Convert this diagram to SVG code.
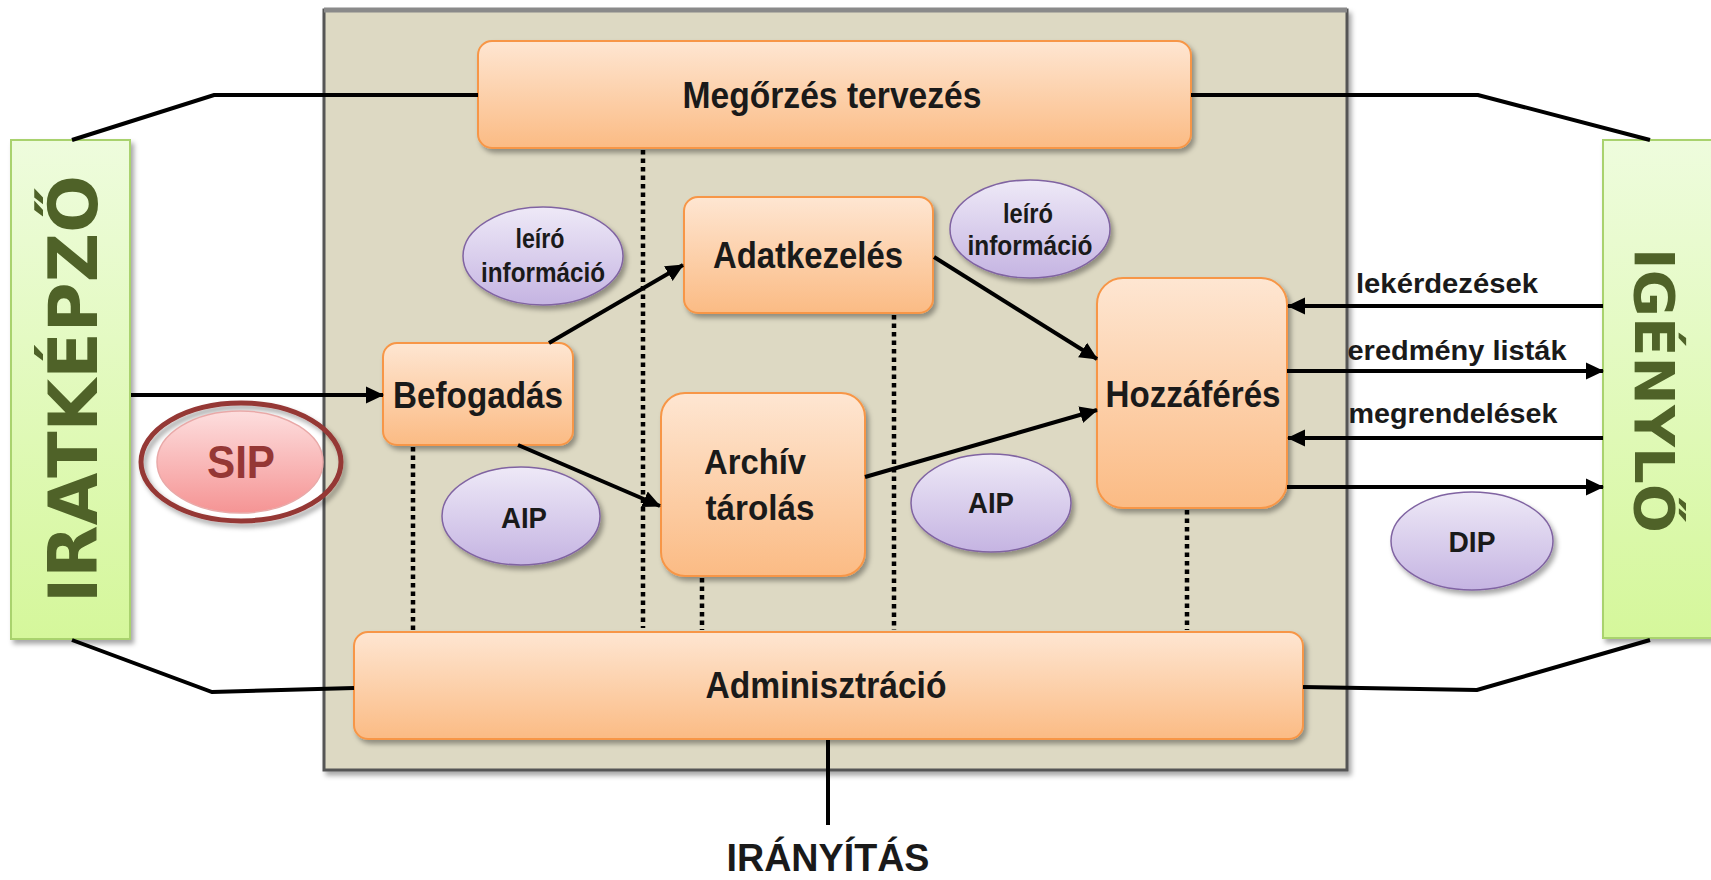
<svg xmlns="http://www.w3.org/2000/svg" width="1711" height="880" viewBox="0 0 1711 880">
<defs>
<style>
.lbl{font-family:"Liberation Sans",Arial,sans-serif;font-weight:bold;fill:#1a1a1a;text-anchor:middle}
.box{fill:url(#gOrange);stroke:#f79646;stroke-width:2}
.ell{fill:url(#gPurple);stroke:#8064a2;stroke-width:1.5}
.side{fill:url(#gGreen);stroke:#a9d26e;stroke-width:2}
.sideTxt{font-family:"DejaVu Sans",Verdana,sans-serif;font-weight:bold;fill:#4f6228;text-anchor:middle}
.ln{fill:none;stroke:#000;stroke-width:4}
.dot{fill:none;stroke:#000;stroke-width:4.5;stroke-dasharray:4.5 4}
</style>
<linearGradient id="gOrange" x1="0" y1="0" x2="0" y2="1"><stop offset="0" stop-color="#fee6d2"/><stop offset="1" stop-color="#fbbb84"/></linearGradient>
<linearGradient id="gPurple" x1="0" y1="0" x2="0" y2="1"><stop offset="0" stop-color="#eee9f7"/><stop offset="1" stop-color="#c5b4e2"/></linearGradient>
<linearGradient id="gGreen" x1="0" y1="0" x2="0" y2="1"><stop offset="0" stop-color="#eefcdd"/><stop offset="1" stop-color="#d5f79b"/></linearGradient>
<linearGradient id="gPink" x1="0" y1="0" x2="0" y2="1"><stop offset="0" stop-color="#fddede"/><stop offset="1" stop-color="#f59494"/></linearGradient>
<filter id="sh" x="-10%" y="-10%" width="130%" height="140%"><feDropShadow dx="3" dy="4" stdDeviation="2.5" flood-color="#000" flood-opacity="0.35"/></filter>
<marker id="ah" markerUnits="userSpaceOnUse" markerWidth="18" markerHeight="18" refX="17" refY="9" orient="auto"><path d="M0,0.5 L18,9 L0,17.5 z" fill="#000"/></marker>
</defs>
<rect width="1711" height="880" fill="#fff"/>

<g id="frame">
<rect x="324" y="10" width="1023" height="760" fill="#ddd9c3" stroke="#555" stroke-width="3" filter="url(#sh)"/>
<line x1="324" y1="10" x2="1347" y2="10" stroke="#8a8a8a" stroke-width="5"/>
</g>

<g id="iratkepzo">
<rect class="side" x="11" y="140" width="119" height="499" filter="url(#sh)"/>
<text class="sideTxt" font-size="67" textLength="428" lengthAdjust="spacingAndGlyphs" transform="translate(97,389) rotate(-90)" x="0" y="0">IRATKÉPZŐ</text>
</g>

<g id="igenylo">
<rect class="side" x="1603" y="140" width="120" height="498" filter="url(#sh)"/>
<text class="sideTxt" font-size="56" textLength="285" lengthAdjust="spacingAndGlyphs" transform="translate(1635,390.5) rotate(90)" x="0" y="0">IGÉNYLŐ</text>
</g>

<g id="sip">
<ellipse cx="241" cy="462" rx="100" ry="59" fill="none" stroke="#953735" stroke-width="5" filter="url(#sh)"/>
<ellipse cx="240" cy="462" rx="83" ry="51" fill="url(#gPink)" stroke="#e9a9a8" stroke-width="1.5"/>
<text class="lbl" x="241" y="478" font-size="46" textLength="68" lengthAdjust="spacingAndGlyphs" style="fill:#953735">SIP</text>
</g>

<g id="megorzes">
<rect class="box" x="478" y="41" width="713" height="107" rx="14" filter="url(#sh)"/>
<text class="lbl" x="832" y="108" font-size="36" textLength="299" lengthAdjust="spacingAndGlyphs">Megőrzés tervezés</text>
</g>

<g id="befogadas">
<rect class="box" x="383" y="343" width="190" height="102" rx="14" filter="url(#sh)"/>
<text class="lbl" x="478" y="408" font-size="37" textLength="170" lengthAdjust="spacingAndGlyphs">Befogadás</text>
</g>

<g id="adatkezeles">
<rect class="box" x="684" y="197" width="249" height="116" rx="14" filter="url(#sh)"/>
<text class="lbl" x="808" y="268" font-size="36" textLength="190" lengthAdjust="spacingAndGlyphs">Adatkezelés</text>
</g>

<g id="archiv">
<rect class="box" x="661" y="393" width="204" height="183" rx="24" filter="url(#sh)"/>
<text class="lbl" x="755" y="474" font-size="35" textLength="102" lengthAdjust="spacingAndGlyphs">Archív</text>
<text class="lbl" x="760" y="520" font-size="35" textLength="109" lengthAdjust="spacingAndGlyphs">tárolás</text>
</g>

<g id="hozzaferes">
<rect class="box" x="1097" y="278" width="190" height="230" rx="26" filter="url(#sh)"/>
<text class="lbl" x="1193" y="407" font-size="36" textLength="175" lengthAdjust="spacingAndGlyphs">Hozzáférés</text>
</g>

<g id="adminisztracio">
<rect class="box" x="354" y="632" width="949" height="107" rx="14" filter="url(#sh)"/>
<text class="lbl" x="826" y="698" font-size="36" textLength="241" lengthAdjust="spacingAndGlyphs">Adminisztráció</text>
</g>

<g id="leiro1">
<ellipse class="ell" cx="543" cy="256" rx="80" ry="49" filter="url(#sh)"/>
<text class="lbl" x="540" y="248" font-size="27" textLength="49" lengthAdjust="spacingAndGlyphs">leíró</text>
<text class="lbl" x="543" y="282" font-size="27" textLength="124" lengthAdjust="spacingAndGlyphs">információ</text>
</g>

<g id="leiro2">
<ellipse class="ell" cx="1030" cy="229" rx="80" ry="49" filter="url(#sh)"/>
<text class="lbl" x="1028" y="223" font-size="27" textLength="50" lengthAdjust="spacingAndGlyphs">leíró</text>
<text class="lbl" x="1030" y="255" font-size="27" textLength="125" lengthAdjust="spacingAndGlyphs">információ</text>
</g>

<g id="aip1">
<ellipse class="ell" cx="521" cy="516" rx="79" ry="49" filter="url(#sh)"/>
<text class="lbl" x="524" y="528" font-size="29" textLength="46" lengthAdjust="spacingAndGlyphs">AIP</text>
</g>

<g id="aip2">
<ellipse class="ell" cx="991" cy="503" rx="80" ry="49" filter="url(#sh)"/>
<text class="lbl" x="991" y="513" font-size="29" textLength="46" lengthAdjust="spacingAndGlyphs">AIP</text>
</g>

<g id="dip">
<ellipse class="ell" cx="1472" cy="541" rx="81" ry="49" filter="url(#sh)"/>
<text class="lbl" x="1472" y="552" font-size="29" textLength="47" lengthAdjust="spacingAndGlyphs">DIP</text>
</g>

<g id="connectors">
<polyline class="ln" points="478,95 214,95 72,140"/>
<polyline class="ln" points="1191,95 1478,95 1650,140"/>
<polyline class="ln" points="354,688 212,692 72,640"/>
<polyline class="ln" points="1303,687 1477,690 1650,640"/>
<line class="ln" x1="131" y1="395" x2="383" y2="395" marker-end="url(#ah)"/>
<line class="ln" x1="549" y1="343" x2="683" y2="265" marker-end="url(#ah)"/>
<line class="ln" x1="518" y1="445" x2="660" y2="506" marker-end="url(#ah)"/>
<line class="ln" x1="934" y1="257" x2="1097" y2="359" marker-end="url(#ah)"/>
<line class="ln" x1="865" y1="477" x2="1097" y2="410" marker-end="url(#ah)"/>
<line class="ln" x1="1603" y1="306" x2="1288" y2="306" marker-end="url(#ah)"/>
<line class="ln" x1="1287" y1="371" x2="1603" y2="371" marker-end="url(#ah)"/>
<line class="ln" x1="1603" y1="438" x2="1288" y2="438" marker-end="url(#ah)"/>
<line class="ln" x1="1287" y1="487" x2="1603" y2="487" marker-end="url(#ah)"/>
<line class="ln" x1="828" y1="740" x2="828" y2="825"/>
<line class="dot" x1="643" y1="150" x2="643" y2="628"/>
<line class="dot" x1="413" y1="447" x2="413" y2="630"/>
<line class="dot" x1="702" y1="578" x2="702" y2="630"/>
<line class="dot" x1="894" y1="315" x2="894" y2="630"/>
<line class="dot" x1="1187" y1="510" x2="1187" y2="630"/>
<text class="lbl" x="1447" y="293" font-size="28" textLength="182" lengthAdjust="spacingAndGlyphs">lekérdezések</text>
<text class="lbl" x="1457" y="360" font-size="28" textLength="219" lengthAdjust="spacingAndGlyphs">eredmény listák</text>
<text class="lbl" x="1453" y="423" font-size="28" textLength="209" lengthAdjust="spacingAndGlyphs">megrendelések</text>
<text class="lbl" x="828" y="871" font-size="38" textLength="203" lengthAdjust="spacingAndGlyphs">IRÁNYÍTÁS</text>
</g>
</svg>
